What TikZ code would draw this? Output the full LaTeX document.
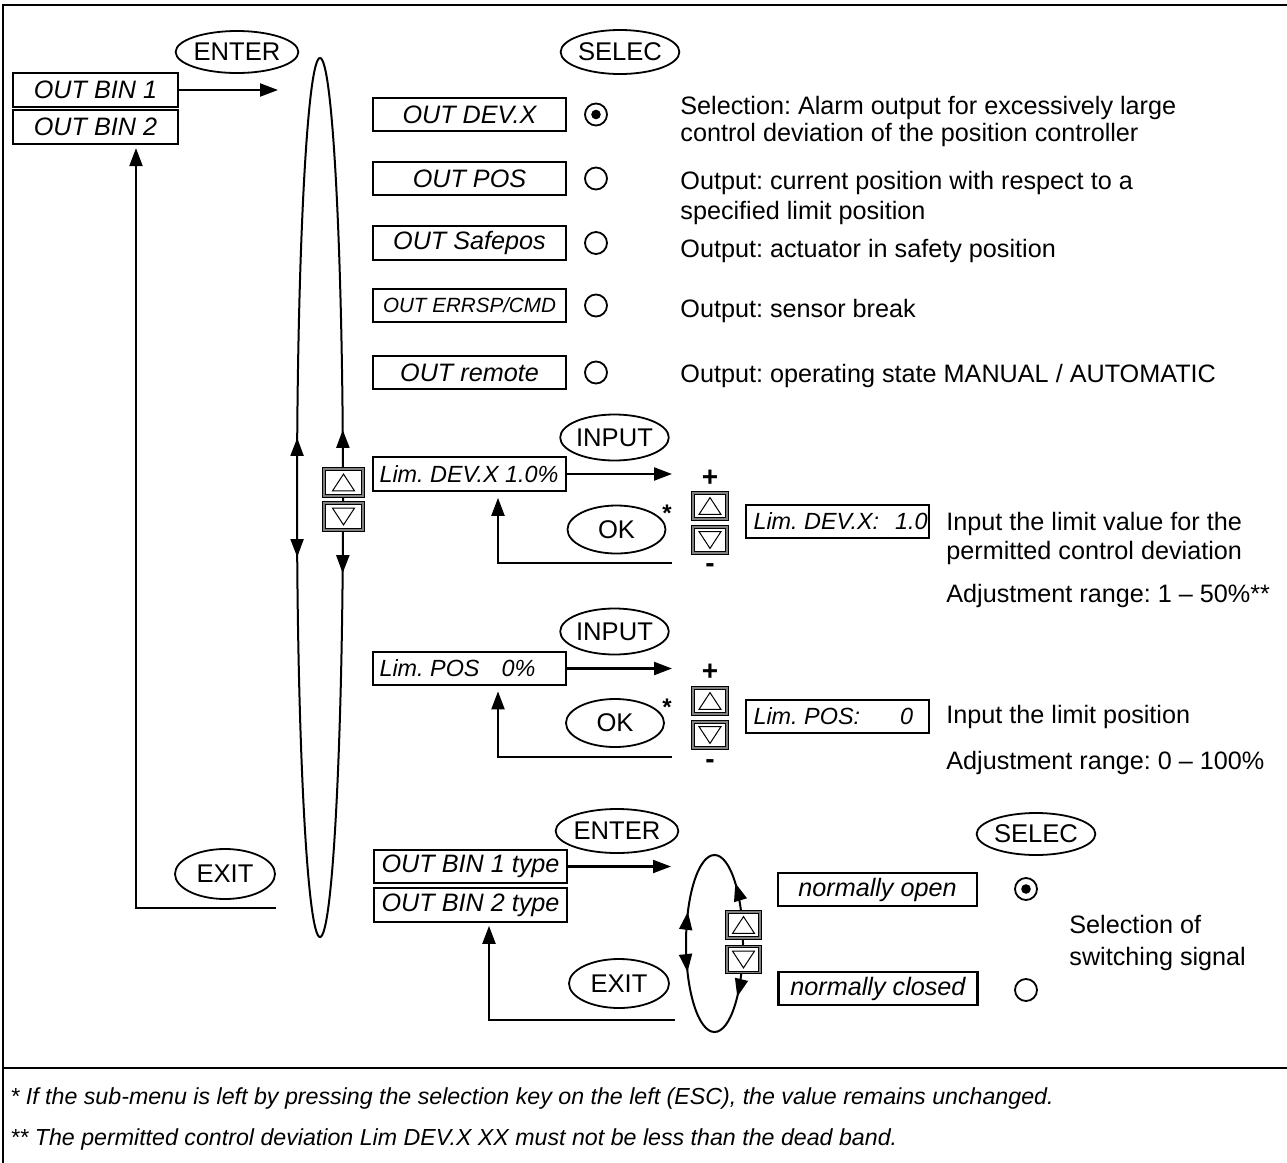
\documentclass[tikz,border=0pt]{standalone}
\usepackage{fontspec}
\setmainfont{Liberation Sans}
\usetikzlibrary{arrows.meta,shapes.geometric,decorations.markings,calc}
\newcommand\trup[1]{\draw[line width=0.5pt] ([shift={(-5.5pt,-4.2pt)}]#1.center) -- ([shift={(5.5pt,-4.2pt)}]#1.center) -- ([shift={(0pt,4.2pt)}]#1.center) -- cycle;}
\newcommand\trdn[1]{\draw[line width=0.5pt] ([shift={(-5.5pt,4.2pt)}]#1.center) -- ([shift={(5.5pt,4.2pt)}]#1.center) -- ([shift={(0pt,-4.2pt)}]#1.center) -- cycle;}
\frenchspacing
\begin{document}
\begin{tikzpicture}[x=0.5pt,y=-0.5pt,
  >={Triangle[length=9pt,width=6.5pt]},
  lbox/.style={draw, line width=1.1pt, fill=white, inner sep=0pt, minimum height=16.75pt, font=\itshape\fontsize{12.6}{15}\selectfont},
  key/.style={draw, ellipse, line width=0.9pt, inner sep=0pt, font=\fontsize{12.8}{15}\selectfont},
  conn/.style={line width=1.1pt, ->},
  desc/.style={anchor=base west, inner sep=0pt, font=\fontsize{12.6}{15}\selectfont},
  note/.style={anchor=base west, inner sep=0pt, font=\itshape\fontsize{11.6}{14}\selectfont},
  radio/.style={draw, circle, line width=0.9pt, minimum size=11pt, inner sep=0pt},
  btn/.style={draw, double=gray, line width=0.5pt, double distance=0.8pt, fill=white, inner sep=0pt, minimum width=17pt, minimum height=13pt},
  loopline/.style={line width=1pt},
  sign/.style={inner sep=0pt, font=\bfseries\fontsize{14}{16}\selectfont},
  frameline/.style={line width=1pt}
]
\useasboundingbox (0,0) rectangle (1287,1163);
% frame
\draw[frameline] (3,1163) -- (3,5) -- (1287,5);
\draw[frameline] (3,1068) -- (1287,1068);

% main loop
\draw[loopline, postaction={decorate}, decoration={markings,
   mark=at position 0.0383 with {\arrow{>}},
   mark=at position 0.4663 with {\arrowreversed{>}},
   mark=at position 0.5337 with {\arrow{>}},
   mark=at position 0.9572 with {\arrowreversed{>}}}]
   (320,497.5) ellipse [x radius=11.5pt, y radius=219.75pt];
\node[btn, minimum width=19.5pt, minimum height=13.5pt] (mu) at (343.5,482.5) {};
\node[btn, minimum width=19.5pt, minimum height=13.5pt] (md) at (343.5,516.5) {};
\trup{mu} \trdn{md}

% left column
\node[lbox, minimum width=82.5pt, minimum height=17pt] (bin1) at (95.5,90) {OUT BIN 1};
\node[lbox, minimum width=82.5pt, minimum height=17pt] (bin2) at (95.5,127) {OUT BIN 2};
\node[key, minimum width=50pt, minimum height=21pt] (enter1) at (237,52) {ENTER};
\coordinate (bigin) at (278,90);
\draw[conn] (bin1.east) -- (bigin);
\node[key, minimum width=50pt, minimum height=25pt] (exit1) at (225,874) {EXIT};
\coordinate (back0) at (276,908);
\coordinate (bin2in) at ([xshift=20.25pt]bin2.south);
\draw[conn, shorten >=1.5pt] (back0) -| (bin2in);

% options
\node[key, minimum width=49pt, minimum height=22pt] (selec1) at (620,52) {SELEC};
\node[lbox, minimum width=96.5pt] (o1) at (469.5,114.5) {OUT DEV.X};
\node[lbox, minimum width=96.5pt] (o2) at (469.5,178.5) {OUT POS};
\node[lbox, minimum width=96.5pt] (o3) at (469.5,243) {OUT Safepos};
\node[lbox, minimum width=96.5pt, font=\itshape\fontsize{10.3}{12}\selectfont] (o4) at (469.5,305.5) {OUT ERRSP/CMD};
\node[lbox, minimum width=96.5pt] (o5) at (469.5,372.5) {OUT remote};
\node[radio] (r1) at (596,114.5) {};
\fill (r1.center) circle (2.4pt);
\node[radio] (r2) at (596,178.5) {};
\node[radio] (r3) at (596,243) {};
\node[radio] (r4) at (596,305.5) {};
\node[radio] (r5) at (596,372.5) {};
\node[desc] (d1a) at (680,114) {Selection: Alarm output for excessively large};
\node[desc] (d1b) at (680,141) {control deviation of the position controller};
\node[desc] (d2a) at (680,189) {Output: current position with respect to a};
\node[desc] (d2b) at (680,219) {specified limit position};
\node[desc] (d3) at (680,257) {Output: actuator in safety position};
\node[desc] (d4) at (680,317) {Output: sensor break};
\node[desc] (d5) at (680,382) {Output: operating state MANUAL / AUTOMATIC};

% Lim DEV.X
\node[key, minimum width=47pt, minimum height=23pt] (input1) at (614.5,437.5) {INPUT};
\node[lbox, minimum width=96.5pt, font=\itshape\fontsize{11.7}{14}\selectfont] (lim1) at (469.5,474) {\makebox[93pt][l]{\hspace{1.5pt}Lim. DEV.X 1.0\%}};
\coordinate (adj1) at (672,474);
\draw[conn] (lim1.east) -- (adj1);
\node[sign] (plus1) at (710,478) {+};
\node[key, minimum width=49pt, minimum height=24pt] (ok1) at (616.5,529.5) {OK};
\node[sign, font=\bfseries\fontsize{12}{14}\selectfont] (star1) at (667,513) {*};
\node[btn] (p1u) at (710,506) {};
\node[btn] (p1d) at (710,540) {};
\trup{p1u} \trdn{p1d}
\node[sign] (minus1) at (710,568) {-};
\coordinate (back1) at (672,563);
\coordinate (lim1in) at ([xshift=14.25pt]lim1.south);
\draw[conn, shorten >=3pt] (back1) -| (lim1in);
\node[lbox, minimum width=91.5pt, font=\itshape\fontsize{11.7}{14}\selectfont] (val1) at (837.5,521.5) {\makebox[88pt][l]{\hspace{2pt}Lim. DEV.X:\hspace{8pt}1.0}};
\node[desc] (d6a) at (946,530) {Input the limit value for the};
\node[desc] (d6b) at (946,559) {permitted control deviation};
\node[desc] (d6c) at (946,602) {Adjustment range: 1 – 50\%**};

% Lim POS
\node[key, minimum width=47pt, minimum height=23pt] (input2) at (614.5,631.5) {INPUT};
\node[lbox, minimum width=96.5pt, font=\itshape\fontsize{11.7}{14}\selectfont] (lim2) at (469.5,668.5) {\makebox[93pt][l]{\hspace{1.5pt}Lim. POS\hspace{11pt}0\%}};
\coordinate (adj2) at (672,668.5);
\draw[conn] (lim2.east) -- (adj2);
\node[sign] (plus2) at (710,672) {+};
\node[key, minimum width=49pt, minimum height=24pt] (ok2) at (615,723) {OK};
\node[sign, font=\bfseries\fontsize{12}{14}\selectfont] (star2) at (667,707) {*};
\node[btn] (p2u) at (710,701) {};
\node[btn] (p2d) at (710,735) {};
\trup{p2u} \trdn{p2d}
\node[sign] (minus2) at (710,764) {-};
\coordinate (back2) at (672,757);
\coordinate (lim2in) at ([xshift=14.25pt]lim2.south);
\draw[conn, shorten >=2.5pt] (back2) -| (lim2in);
\node[lbox, minimum width=91.5pt, font=\itshape\fontsize{11.7}{14}\selectfont] (val2) at (837.5,716.5) {\makebox[88pt][l]{\hspace{2pt}Lim. POS:\hspace{20pt}0}};
\node[desc] (d7a) at (946,723) {Input the limit position};
\node[desc] (d7b) at (946,769) {Adjustment range: 0 – 100\%};

% switching type
\node[key, minimum width=49pt, minimum height=22pt] (enter2) at (617,831) {ENTER};
\node[lbox, minimum width=96.5pt] (ty1) at (470.5,866.5) {OUT BIN 1 type};
\node[lbox, minimum width=96.5pt] (ty2) at (470.5,905) {OUT BIN 2 type};
\coordinate (sub) at (671,866.5);
\draw[conn] (ty1.east) -- (sub);
\node[key, minimum width=50pt, minimum height=24.5pt] (exit2) at (619,983.5) {EXIT};
\coordinate (back3) at (675,1020);
\coordinate (ty2in) at ([xshift=9.25pt]ty2.south);
\draw[conn, shorten >=1.5pt] (back3) -| (ty2in);
\draw[loopline, postaction={decorate}, decoration={markings,
   mark=at position 0.156 with {\arrow{>}},
   mark=at position 0.419 with {\arrowreversed{>}},
   mark=at position 0.573 with {\arrow{>}},
   mark=at position 0.863 with {\arrowreversed{>}}}]
   (714.5,943.5) ellipse [x radius=14.25pt, y radius=44.25pt];
\node[btn, minimum width=16.5pt] (p3u) at (743.5,925) {};
\node[btn, minimum width=16.5pt] (p3d) at (743.5,959.5) {};
\trup{p3u} \trdn{p3d}
\node[lbox, minimum width=99.5pt] (nopen) at (877.5,889.5) {normally open};
\node[lbox, minimum width=99.5pt] (nclosed) at (878,988.5) {normally closed};
\node[key, minimum width=49pt, minimum height=21pt] (selec2) at (1036,834) {SELEC};
\node[radio] (r6) at (1026,889) {};
\fill (r6.center) circle (2.4pt);
\node[radio] (r7) at (1026,990) {};
\node[desc] (d8a) at (1069,933) {Selection of};
\node[desc] (d8b) at (1069,965) {switching signal};

% footnotes
\node[note] (f1) at (10,1104) {* If the sub-menu is left by pressing the selection key on the left (ESC), the value remains unchanged.};
\node[note] (f2) at (10,1145) {** The permitted control deviation Lim DEV.X XX must not be less than the dead band.};
\end{tikzpicture}
\end{document}
